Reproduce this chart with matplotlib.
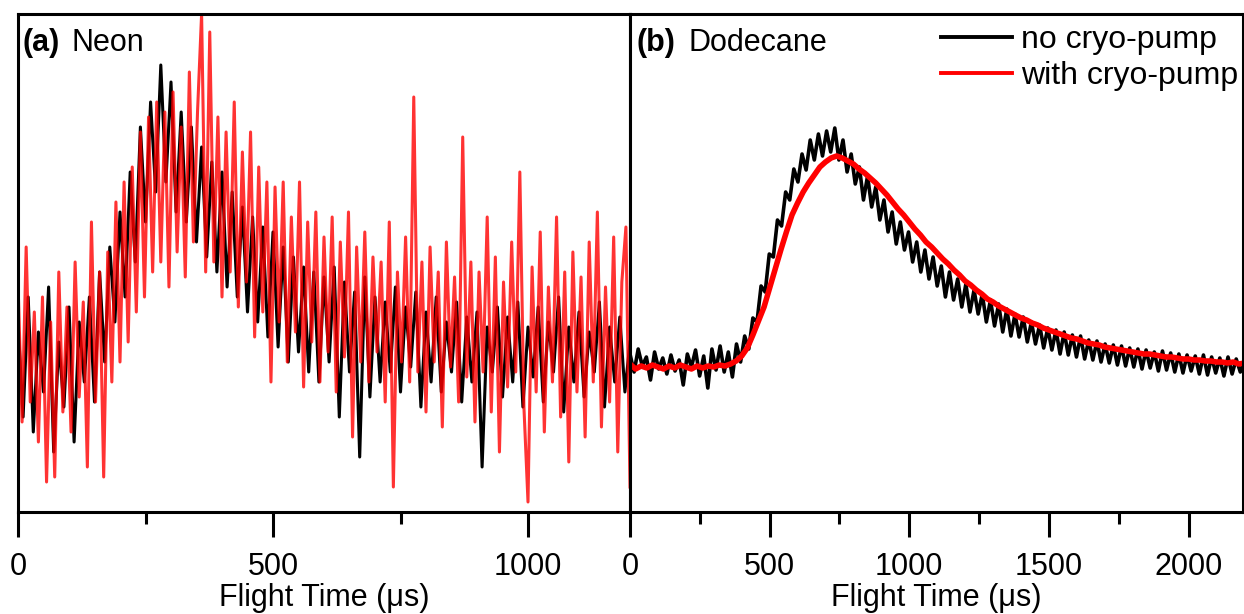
import matplotlib

matplotlib.use("Agg")
import matplotlib.pyplot as plt
import numpy as np

# signal in arbitrary units (0 = bottom of frame, 498 = top)
NEON_RED = [
    230, 90, 265, 110, 200, 70, 215, 30, 190, 35, 240, 100, 205, 80, 250, 115,
    210, 45, 290, 110, 240, 35, 260, 130, 310, 150, 330, 170, 345, 200, 380, 215,
    395, 240, 410, 250, 400, 225, 420, 260, 385, 235, 440, 270, 400, 498, 240, 480,
    250, 395, 215, 380, 240, 410, 205, 360, 230, 380, 175, 345, 200, 330, 130, 325,
    190, 330, 150, 295, 180, 330, 125, 290, 170, 300, 130, 275, 160, 295, 120, 270,
    155, 300, 75, 265, 150, 280, 130, 255, 160, 250, 110, 290, 25, 240, 150, 275,
    130, 415, 140, 250, 100, 265, 150, 240, 85, 270, 145, 235, 110, 375, 135, 250,
    90, 240, 140, 295, 100, 255, 60, 230, 125, 270, 140, 340, 105, 10, 245, 120,
    280, 80, 225, 130, 295, 95, 240, 50, 260, 120, 235, 75, 270, 130, 300, 85,
    225, 110, 275, 60, 230, 285, 25,
]
NEON_BLACK = [
    190, 95, 215, 80, 180, 120, 225, 60, 170, 105, 205, 70, 190, 130, 215, 110,
    240, 150, 265, 190, 300, 215, 340, 250, 385, 290, 410, 320, 447, 330, 430, 300,
    400, 290, 385, 270, 365, 255, 350, 240, 340, 225, 320, 215, 305, 200, 295, 190,
    285, 175, 280, 165, 265, 150, 255, 160, 245, 140, 240, 130, 235, 150, 245, 95,
    230, 140, 220, 55, 235, 115, 215, 130, 210, 140, 225, 120, 205, 145, 220, 105,
    200, 130, 215, 120, 190, 140, 210, 110, 195, 130, 200, 45, 185, 140, 205, 115,
    195, 130, 210, 105, 185, 135, 205, 110, 190, 140, 215, 100, 185, 130, 200, 115,
    180, 140, 210, 105, 185, 130, 195, 120, 170,
]
DODE_BLACK = [
    158, 140, 163, 146, 155, 132, 160, 143, 154, 138, 157, 141, 152, 127, 158, 145,
    162, 136, 156, 124, 163, 142, 166, 140, 160, 135, 168, 150, 176, 163, 194, 190,
    226, 220, 258, 255, 292, 286, 320, 312, 343, 330, 358, 342, 372, 352, 378, 356,
    381, 360, 384, 352, 372, 340, 358, 328, 345, 312, 336, 305, 325, 292, 312, 280,
    300, 268, 290, 262, 280, 250, 270, 240, 262, 233, 255, 226, 246, 215, 240, 212,
    233, 205, 228, 200, 222, 198, 218, 190, 212, 186, 208, 180, 203, 176, 198, 175,
    195, 170, 190, 168, 187, 164, 184, 162, 182, 158, 180, 157, 177, 155, 176, 153,
    172, 152, 171, 150, 168, 149, 167, 147, 166, 146, 164, 145, 163, 143, 162, 144,
    160, 141, 161, 142, 159, 140, 158, 139, 157, 141, 156, 138, 157, 137, 155, 139,
    154, 136, 155, 138, 153, 140, 150,
]
DODE_RED = [
    148, 143, 146, 144, 147, 145, 143, 146, 144, 147, 145, 143, 146, 144, 146, 145,
    147, 146, 148, 151, 156, 164, 177, 191, 205, 224, 243, 262, 280, 297, 309, 320,
    329, 337, 345, 350, 354, 356, 354, 351, 348, 343, 339, 334, 329, 323, 317, 310,
    303, 297, 290, 283, 277, 270, 265, 259, 253, 248, 242, 237, 231, 227, 222, 218,
    213, 210, 206, 203, 200, 197, 194, 192, 189, 187, 184, 182, 180, 178, 176, 174,
    173, 171, 169, 168, 167, 165, 164, 163, 162, 161, 160, 159, 158, 158, 157, 156,
    155, 155, 154, 153, 153, 152, 152, 151, 151, 150, 150, 149, 150, 148, 149,
]
NEON_XMAX = 1200
DODE_XMAX = 2200
LABELS = ["no cryo-pump", "with cryo-pump"]

plt.rcParams.update({
    "font.family": ["Liberation Sans", "DejaVu Sans"], "font.size": 22,
    "axes.linewidth": 2.2, "xtick.major.width": 2.2, "xtick.minor.width": 2.2,
    "xtick.major.size": 18, "xtick.minor.size": 8.5, "xtick.direction": "out",
    "xtick.major.pad": 10.5, "xtick.labelsize": 22,
})

fig = plt.figure(figsize=(12.44, 6.14), dpi=100)
ax1 = fig.add_axes([18 / 1244, 102 / 614, 612 / 1244, 498 / 614])
ax2 = fig.add_axes([630 / 1244, 102 / 614, 613 / 1244, 498 / 614])

ax1.plot(np.linspace(0, NEON_XMAX, len(NEON_BLACK)), NEON_BLACK, color="black", lw=2.2)
ax1.plot(np.linspace(0, NEON_XMAX, len(NEON_RED)), NEON_RED, color="red", lw=2.2, alpha=0.8)
ax2.plot(np.linspace(0, DODE_XMAX, len(DODE_BLACK)), DODE_BLACK, color="black", lw=2.6, label=LABELS[0])
ax2.plot(np.linspace(0, DODE_XMAX, len(DODE_RED)), DODE_RED, color="red", lw=4, label=LABELS[1])

ax1.set_xlim(0, 1200)
ax1.set_xticks([0, 500, 1000])
ax1.set_xticks([250, 750], minor=True)
ax2.set_xlim(0, 2195)
ax2.set_xticks([0, 500, 1000, 1500, 2000])
ax2.set_xticks([250, 750, 1250, 1750], minor=True)

for ax in (ax1, ax2):
    ax.set_ylim(0, 498)
    ax.set_yticks([])
    ax.set_xlabel("Flight Time (\u03bcs)", fontsize=22, labelpad=1)

ax1.text(5 / 612, 0.925, "(a)", transform=ax1.transAxes, fontweight="bold", va="baseline")
ax1.text(53 / 612, 0.925, "Neon", transform=ax1.transAxes, va="baseline")
ax2.text(6 / 613, 0.925, "(b)", transform=ax2.transAxes, fontweight="bold", va="baseline")
ax2.text(58 / 613, 0.925, "Dodecane", transform=ax2.transAxes, va="baseline")

leg = ax2.legend(loc="upper right", bbox_to_anchor=(1.0, 0.988), frameon=False, fontsize=23,
                 handlelength=2.2, handletextpad=0.3, labelspacing=0.2,
                 borderpad=0.15, borderaxespad=0.0)
for ln in leg.get_lines():
    ln.set_linewidth(2.8)

fig.savefig("out.png", dpi=100)
